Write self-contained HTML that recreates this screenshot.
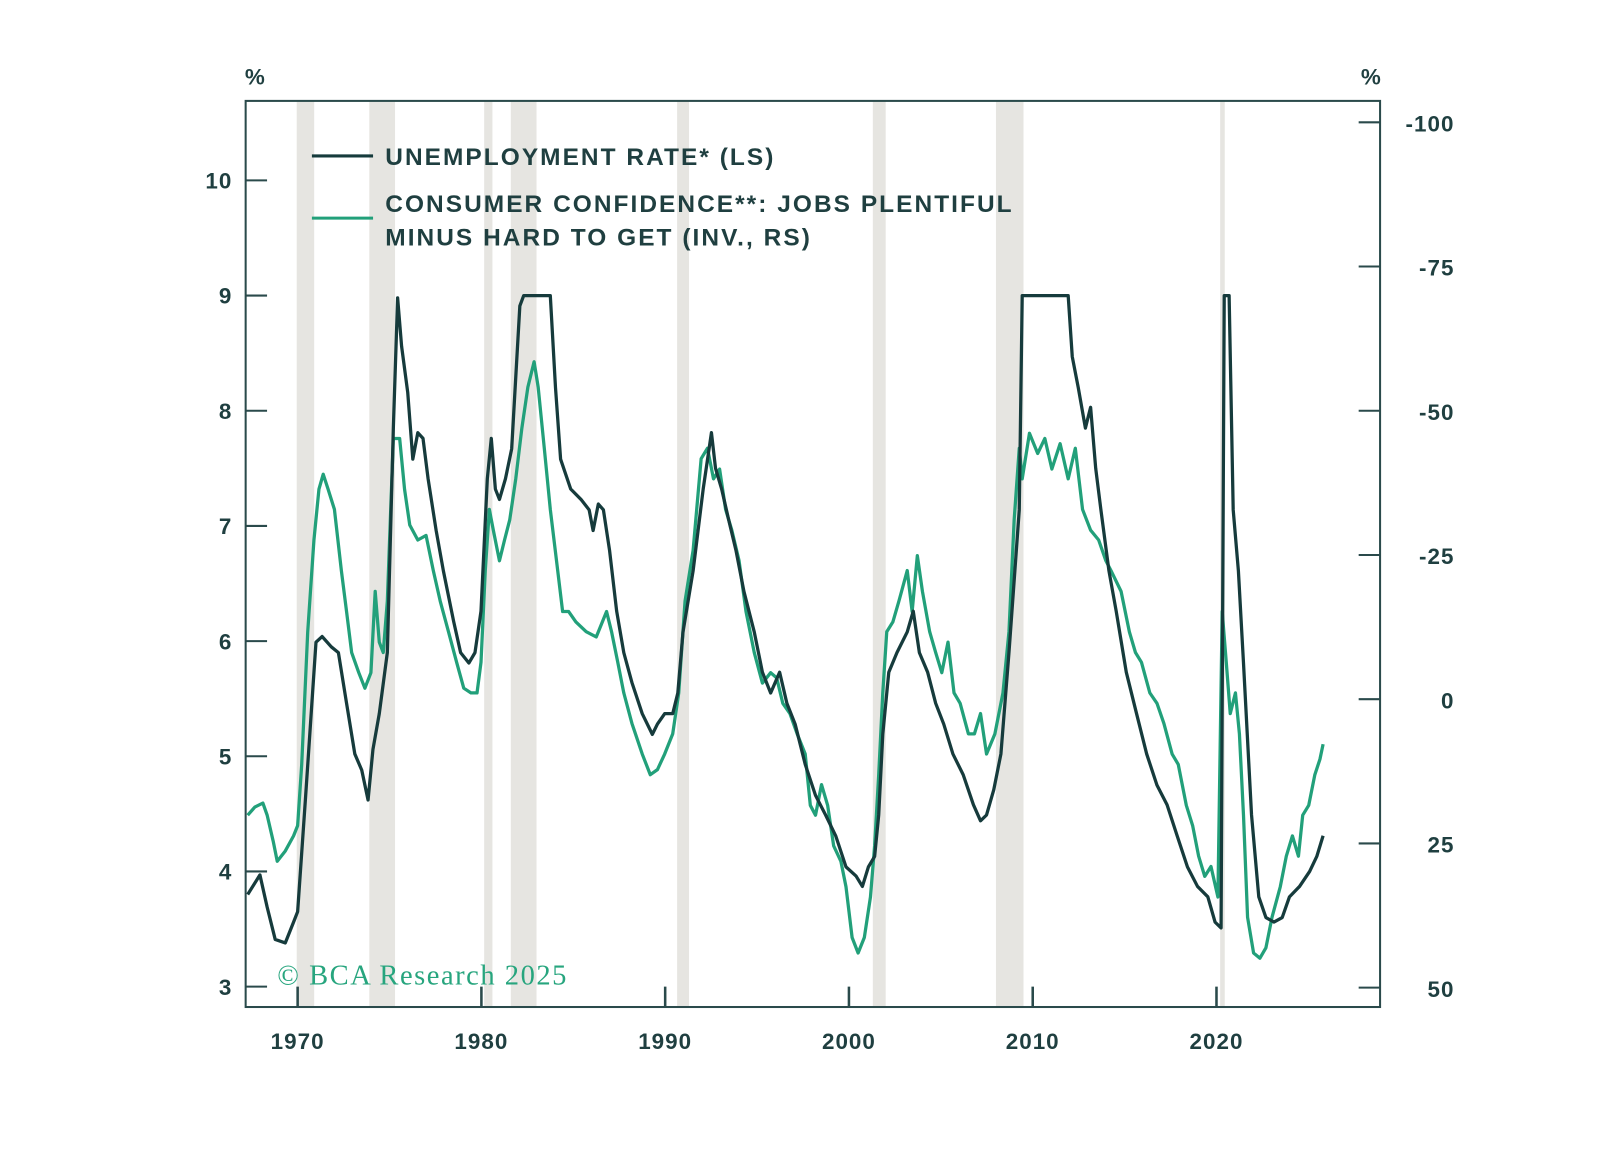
<!DOCTYPE html>
<html><head><meta charset="utf-8"><style>
body{margin:0;background:#fff;}
svg text{font-family:"Liberation Sans",sans-serif;font-weight:bold;fill:#1f3f40;}
.leg{letter-spacing:2px;}
.tk{letter-spacing:1px;}
</style></head><body>
<svg id="chart" width="1598" height="1144" viewBox="0 0 1567.8 1122.4">
<g id="bands"></g><g id="ticks"></g><g id="lines"></g>
<rect x="241" y="99" width="1113" height="889" fill="none" stroke="#2a4a4b" stroke-width="2"/>
<text x="250" y="83" font-size="22" text-anchor="middle">%</text>
<text x="1345" y="83" font-size="22" text-anchor="middle">%</text>
<line x1="306" y1="153" x2="366" y2="153" stroke="#163b3c" stroke-width="3"/>
<text class="leg" x="378" y="162" font-size="24">UNEMPLOYMENT RATE* (LS)</text>
<line x1="306" y1="214" x2="366" y2="214" stroke="#22a07a" stroke-width="3"/>
<text class="leg" x="378" y="208" font-size="24">CONSUMER CONFIDENCE**: JOBS PLENTIFUL</text>
<text class="leg" x="378" y="241" font-size="24">MINUS HARD TO GET (INV., RS)</text>
<text x="272" y="966" font-size="28" style="font-family:'Liberation Serif',serif;font-weight:normal;fill:#27a57e;letter-spacing:1.5px">© BCA Research 2025</text>
</svg>
<script>
const leftTicks=[3,4,5,6,7,8,9,10];
const rightTicks=[-100,-75,-50,-25,0,25,50];
const yearTicks=[1970,1980,1990,2000,2010,2020];
const recStart=[1969.95,1973.9,1980.15,1981.6,1990.65,2001.3,2008.0,2020.2];
const recEnd=[1970.9,1975.3,1980.6,1983.0,1991.3,2002.0,2009.5,2020.45];
const urYears=[1967.28,1967.95,1968.34,1968.78,1969.33,1969.78,1970.0,1970.44,1971.0,1971.33,1971.83,1972.22,1972.66,1973.11,1973.49,1973.83,1974.10,1974.44,1974.88,1975.21,1975.44,1975.66,1975.99,1976.27,1976.54,1976.82,1977.10,1977.54,1977.93,1978.49,1978.87,1979.32,1979.65,1979.98,1980.32,1980.54,1980.76,1980.98,1981.31,1981.65,1982.09,1982.3,1982.9,1983.4,1983.75,1984.03,1984.31,1984.86,1985.42,1985.86,1986.08,1986.36,1986.64,1986.97,1987.36,1987.75,1988.19,1988.75,1989.30,1989.58,1989.97,1990.41,1990.69,1990.97,1991.52,1992.07,1992.52,1992.74,1993.07,1993.46,1993.85,1994.29,1994.85,1995.29,1995.74,1996.23,1996.62,1997.07,1997.62,1998.18,1998.73,1999.28,1999.84,2000.39,2000.73,2001.06,2001.40,2001.62,2001.84,2002.17,2002.61,2003.17,2003.50,2003.83,2004.28,2004.72,2005.16,2005.66,2006.22,2006.77,2007.16,2007.49,2007.88,2008.27,2008.71,2009.27,2009.43,2009.8,2010.5,2011.2,2011.93,2012.15,2012.48,2012.87,2013.15,2013.43,2013.71,2014.15,2014.54,2015.09,2015.65,2016.20,2016.76,2017.31,2017.86,2018.42,2018.97,2019.53,2019.92,2020.25,2020.42,2020.69,2020.91,2021.19,2021.47,2021.91,2022.30,2022.69,2023.13,2023.58,2023.97,2024.52,2025.07,2025.46,2025.80];
const urValues=[3.80,3.97,3.69,3.41,3.38,3.56,3.65,4.66,5.99,6.04,5.95,5.90,5.46,5.02,4.88,4.62,5.06,5.37,5.90,7.85,8.98,8.56,8.16,7.58,7.81,7.76,7.41,6.96,6.61,6.17,5.90,5.81,5.90,6.26,7.41,7.76,7.32,7.23,7.41,7.67,8.91,9.5,10.8,10.2,9.0,8.20,7.58,7.32,7.23,7.14,6.96,7.19,7.14,6.79,6.26,5.90,5.64,5.37,5.19,5.28,5.37,5.37,5.55,6.08,6.61,7.32,7.81,7.50,7.32,7.05,6.79,6.43,6.08,5.73,5.55,5.73,5.46,5.28,4.93,4.66,4.49,4.31,4.04,3.96,3.87,4.04,4.13,4.49,5.19,5.73,5.90,6.08,6.26,5.90,5.73,5.46,5.28,5.02,4.84,4.58,4.44,4.49,4.71,5.02,5.90,7.14,9.4,10.0,9.6,9.1,9.0,8.47,8.20,7.85,8.03,7.50,7.14,6.61,6.26,5.73,5.37,5.02,4.75,4.58,4.31,4.04,3.87,3.78,3.56,3.51,14.7,11.0,7.14,6.61,5.81,4.49,3.78,3.60,3.56,3.60,3.78,3.87,4.00,4.13,4.31];
const ccYears=[1967.28,1967.67,1968.11,1968.34,1968.67,1968.89,1969.33,1969.78,1970.0,1970.22,1970.55,1970.89,1971.16,1971.39,1971.66,1972.0,1972.38,1972.66,1972.94,1973.33,1973.66,1973.99,1974.22,1974.44,1974.66,1974.88,1975.21,1975.55,1975.82,1976.10,1976.54,1976.99,1977.38,1977.76,1978.21,1978.65,1979.04,1979.43,1979.76,1979.98,1980.21,1980.43,1980.65,1980.98,1981.26,1981.54,1981.87,1982.20,1982.53,1982.87,1983.09,1983.42,1983.75,1984.09,1984.42,1984.75,1985.14,1985.70,1986.25,1986.81,1987.08,1987.42,1987.75,1988.19,1988.75,1989.19,1989.58,1989.97,1990.41,1990.74,1991.08,1991.52,1991.96,1992.30,1992.63,1992.96,1993.29,1993.63,1994.02,1994.40,1994.85,1995.29,1995.74,1996.07,1996.40,1996.79,1997.18,1997.62,1997.90,1998.18,1998.51,1998.84,1999.17,1999.56,1999.84,2000.17,2000.50,2000.84,2001.17,2001.40,2001.62,2001.84,2002.06,2002.39,2002.72,2003.17,2003.44,2003.72,2004.0,2004.39,2004.72,2005.05,2005.39,2005.72,2006.05,2006.50,2006.83,2007.16,2007.49,2007.94,2008.38,2008.71,2008.99,2009.27,2009.43,2009.82,2010.27,2010.66,2011.04,2011.49,2011.93,2012.32,2012.71,2013.15,2013.59,2013.98,2014.26,2014.81,2015.26,2015.59,2015.92,2016.37,2016.76,2017.14,2017.59,2017.92,2018.36,2018.70,2019.03,2019.36,2019.70,2020.08,2020.31,2020.53,2020.75,2021.03,2021.25,2021.47,2021.69,2022.02,2022.36,2022.69,2023.02,2023.47,2023.80,2024.13,2024.46,2024.69,2025.02,2025.35,2025.63,2025.80];
const ccValues=[20.1,18.7,18.0,20.1,24.6,28.1,26.3,23.7,21.9,11.3,-11.7,-27.6,-36.4,-39.0,-36.4,-32.9,-22.3,-15.2,-8.1,-4.6,-1.9,-4.6,-18.7,-9.9,-8.1,-17.0,-45.2,-45.2,-36.4,-30.2,-27.6,-28.4,-22.3,-17.0,-11.7,-6.4,-1.9,-1.1,-1.1,-6.4,-22.3,-32.9,-29.3,-24.0,-27.6,-31.1,-38.2,-47.0,-54.1,-58.5,-54.1,-43.5,-32.9,-24.0,-15.2,-15.2,-13.4,-11.7,-10.8,-15.2,-11.7,-6.4,-1.1,4.2,9.5,13.1,12.2,9.5,6.0,-1.1,-17.0,-25.8,-41.7,-43.5,-38.2,-39.9,-32.9,-29.3,-24.0,-15.2,-8.1,-2.8,-4.6,-3.7,0.7,2.5,6.0,9.5,18.4,20.1,14.8,18.4,25.4,28.1,32.5,41.3,44.0,41.3,34.3,25.4,13.1,-1.1,-11.7,-13.4,-17.0,-22.3,-15.2,-24.9,-18.7,-11.7,-8.1,-4.6,-9.9,-1.1,0.7,6.0,6.0,2.5,9.5,6.0,-1.1,-11.7,-31.1,-43.5,-38.2,-46.1,-42.6,-45.2,-39.9,-44.3,-38.2,-43.5,-32.9,-29.3,-27.6,-24.0,-22.3,-18.7,-11.7,-8.1,-6.4,-1.1,0.7,4.2,9.5,11.3,18.4,21.9,27.2,30.7,29.0,34.3,-15.2,-6.4,2.5,-1.1,6.0,20.1,37.8,44.0,44.9,43.1,37.8,32.5,27.2,23.7,27.2,20.1,18.4,13.1,10.4,7.8];

const NS='http://www.w3.org/2000/svg';
const X0=241,X1=1354,Y0=99,Y1=988;
const xScale=y=>292+(y-1970)*18.03;
const yLeft=v=>968-(v-3)*113;
const yRight=v=>686+v*5.66;
function mk(tag,attrs,parent){const e=document.createElementNS(NS,tag);for(const k in attrs)e.setAttribute(k,attrs[k]);parent.appendChild(e);return e;}
const bands=document.getElementById('bands'),ticks=document.getElementById('ticks'),lines=document.getElementById('lines');
recStart.forEach((s,i)=>{
  const r=mk('rect',{x:xScale(s),y:Y0,width:xScale(recEnd[i])-xScale(s),height:Y1-Y0,fill:'#e6e5e1'},bands);
  
  
});
leftTicks.forEach(v=>{
  const y=yLeft(v);
  const l=mk('line',{x1:X0,x2:X0+21,y1:y,y2:y,stroke:'#2a4a4b','stroke-width':2},ticks);
  
  
  const t=mk('text',{x:228,y:y+8,'font-size':22,'text-anchor':'end',class:'tk'},ticks);t.textContent=v;
  
  
});
rightTicks.forEach(v=>{
  const y=yRight(v);
  const l=mk('line',{x1:X1-21,x2:X1,y1:y,y2:y,stroke:'#2a4a4b','stroke-width':2},ticks);
  
  
  const t=mk('text',{x:1427,y:y+9,'font-size':22,'text-anchor':'end',class:'tk'},ticks);t.textContent=v;
  
  
});
yearTicks.forEach(v=>{
  const x=xScale(v);
  const l=mk('line',{x1:x,x2:x,y1:Y1-20,y2:Y1,stroke:'#2a4a4b','stroke-width':2.5},ticks);
  
  
  const t=mk('text',{x:x,y:1029,'font-size':22,'text-anchor':'middle',class:'tk'},ticks);t.textContent=v;
  
  
});
const cc=mk('polyline',{points:ccYears.map((y,i)=>xScale(y).toFixed(1)+','+yRight(ccValues[i]).toFixed(1)).join(' '),fill:'none',stroke:'#22a07a','stroke-width':3.2,'stroke-linejoin':'round'},lines);


const ur=mk('polyline',{points:urYears.map((y,i)=>xScale(y).toFixed(1)+','+yLeft(Math.min(9,urValues[i])).toFixed(1)).join(' '),fill:'none',stroke:'#163b3c','stroke-width':3.2,'stroke-linejoin':'round'},lines);


</script>
</body></html>
